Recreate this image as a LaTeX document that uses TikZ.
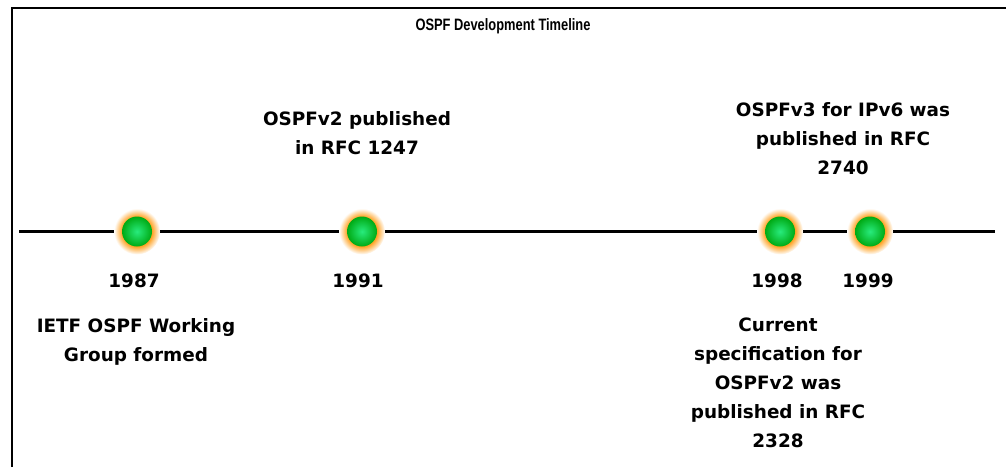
\documentclass[tikz,border=0pt]{standalone}
\usepackage{fontspec}
\setmainfont{DejaVu Sans}
\newfontfamily\titlefont{Liberation Sans}
\definecolor{ballhi}{RGB}{40,235,125}
\definecolor{balllo}{RGB}{0,170,20}
\definecolor{glowc}{RGB}{255,160,30}
\pgfdeclareradialshading{glow}{\pgfpoint{0bp}{0bp}}{color(0bp)=(glowc); color(16bp)=(glowc); color(25bp)=(white); color(50bp)=(white)}
\pgfdeclareradialshading{ball}{\pgfpoint{0bp}{0bp}}{color(0bp)=(ballhi); color(25bp)=(balllo); color(50bp)=(balllo)}
\tikzset{
  ballnode/.style={circle, minimum size=30pt, inner sep=0pt, shading=ball},
  label/.style={font=\bfseries\fontsize{18.4}{29}\selectfont, align=center, inner sep=0pt},
  frameline/.style={line width=2pt, black},
  timeline/.style={line width=2.5pt, black}
}
\begin{document}
\begin{tikzpicture}[x=1pt,y=-1pt]
\useasboundingbox (0,0) rectangle (1006,467);
% frame (left and top edges)
\coordinate (fb) at (12,467);
\coordinate (fc) at (12,7.5);
\coordinate (fr) at (1006,7.5);
\draw[frameline] (fb) -- (fc) -- (fr);
% title
\node[inner sep=0pt] (title) at (503,26) {\scalebox{0.78}[1]{\titlefont\bfseries\fontsize{16.5}{19}\selectfont OSPF Development Timeline}};
% timeline
\coordinate (L) at (19,231.7);
\coordinate (R) at (995,231.7);
\draw[timeline] (L) -- (R);
\foreach \n/\x in {1987/137,1991/362,1998/780,1999/870} {
  \shade[shading=glow] (\x,231.5) circle[radius=23pt];
  \node[ballnode] (b\n) at (\x,231.5) {};
}
% years
\node[label] (y1987) at (134,281) {1987};
\node[label] (y1991) at (358,281) {1991};
\node[label] (y1998) at (777,281) {1998};
\node[label] (y1999) at (868,281) {1999};
% event texts
\node[label] (t1991) at (357,133) {OSPFv2 published\\in RFC 1247};
\node[label] (t1999) at (843,139) {OSPFv3 for IPv6 was\\published in RFC\\2740};
\node[label] (t1987) at (136,342) {IETF OSPF Working\\Group formed};
\node[label] (t1998) at (778,383) {Current\\specification for\\OSPFv2 was\\published in RFC\\2328};
\end{tikzpicture}
\end{document}
